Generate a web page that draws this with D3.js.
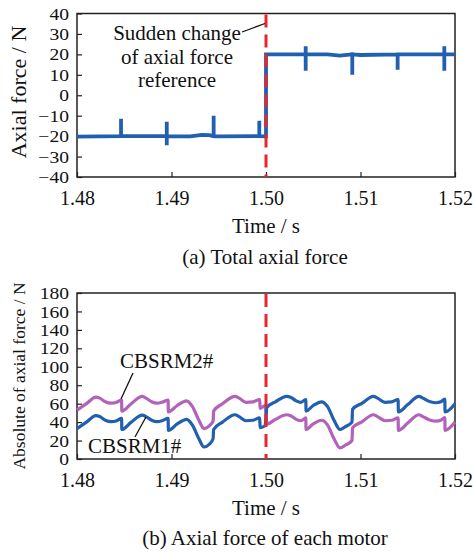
<!DOCTYPE html>
<html>
<head>
<meta charset="utf-8">
<script src="https://cdn.jsdelivr.net/npm/d3@7"></script>
<style>
  html, body { margin: 0; padding: 0; background: #fff; }
  svg { display: block; }
</style>
</head>
<body>
<svg id="chart" width="473" height="554"></svg>
<script>
// ---------------- data ----------------
const xTicks = [1.48, 1.49, 1.50, 1.51, 1.52];
const yTicksTop = [-40, -30, -20, -10, 0, 10, 20, 30, 40];
const yTicksBottom = [0, 20, 40, 60, 80, 100, 120, 140, 160, 180];
const stepTime = 1.50;

// (a) total axial force: base trace
const totalTime  = [1.4800, 1.4920, 1.4932, 1.4940, 1.4950, 1.5000, 1.5000, 1.5065, 1.5078, 1.5100, 1.5200];
const totalForce = [-20.2, -20.1, -19.4, -19.5, -20.1, -20.1, 20.0, 20.0, 19.4, 19.7, 20.0];
// spikes on the total force
const spikeTime = [1.48466, 1.48950, 1.49446, 1.49929, 1.50420, 1.50913, 1.51393, 1.51887];
const spikeMax  = [-11.5, -13.0, -10.0, -12.5, 24.0, 20.0, 20.0, 24.0];
const spikeMin  = [-20.0, -24.5, -20.0, -20.0, 12.0, 10.0, 12.5, 12.0];

// (b) axial force of each motor
const motorTime = [
  1.48000, 1.48100, 1.48200, 1.48240, 1.48300, 1.48360, 1.48420, 1.48472,
  1.48474, 1.48574, 1.48690, 1.48730, 1.48790, 1.48845, 1.48900, 1.48964,
  1.48967, 1.49060, 1.49160, 1.49220, 1.49290, 1.49344, 1.49400, 1.49440,
  1.49446, 1.49540, 1.49672, 1.49715, 1.49790, 1.49860, 1.49934,
  1.49937, 1.49990, 1.50010, 1.50100, 1.50218, 1.50260, 1.50320, 1.50370, 1.50421,
  1.50424, 1.50500, 1.50589, 1.50650, 1.50720, 1.50783, 1.50840, 1.50910,
  1.50916, 1.51010, 1.51136, 1.51180, 1.51260, 1.51330, 1.51398,
  1.51401, 1.51500, 1.51618, 1.51660, 1.51740, 1.51800, 1.51850, 1.51892,
  1.51895, 1.52000
];
const motor1Force = [
  33, 40, 47, 46, 42, 40.5, 41.5, 44,
  32, 40, 47.5, 46, 42, 40.5, 41.5, 44,
  31, 38, 43, 37, 22, 13, 16, 22,
  32, 40, 48, 46, 41.5, 42, 44.5,
  34, 36, 56, 62, 68, 67, 63, 61.5, 64.5,
  52, 58, 62, 57, 42, 32, 35, 40,
  54, 60, 68, 66, 61.5, 62, 64.5,
  51, 59, 68, 66, 62, 61, 62, 65,
  51, 60
];
const motor2Force = [
  53, 60, 67, 66, 62, 60.5, 61.5, 64,
  52, 60, 68, 66, 62, 60.5, 61.5, 64,
  51, 58, 63, 57, 42, 33, 36, 41,
  52, 60, 68, 66, 61.5, 62, 64.5,
  55, 58, 38, 43, 48, 47, 43, 41.5, 44.5,
  32, 38, 42, 37, 22, 12, 15, 20,
  34, 40, 48, 46, 41.5, 42, 44.5,
  31, 39, 48, 46, 42, 41, 42, 45,
  31, 40
];

// ---------------- font pick ----------------
function pickFont(list) {
  const c = document.createElement("canvas").getContext("2d");
  const s = "Sudden change 0123456789 axial";
  for (const f of list) {
    let ok = false;
    for (const fb of ["monospace", "sans-serif"]) {
      c.font = `40px ${fb}`; const w0 = c.measureText(s).width;
      c.font = `40px "${f}", ${fb}`; const w1 = c.measureText(s).width;
      if (Math.abs(w0 - w1) > 0.5) ok = true;
    }
    if (ok) return `"${f}", serif`;
  }
  return "serif";
}
const FAMILY = pickFont(["Liberation Serif", "Times New Roman", "Tinos", "Nimbus Roman", "Times", "DejaVu Serif"]);

// ---------------- drawing ----------------
const svg = d3.select("#chart").style("font-family", FAMILY);
const BLUE = "#2160b0", PURPLE = "#b262b8", RED = "#e8262b";
const FONT = 20;

const x = d3.scaleLinear().domain([1.48, 1.52]).range([77, 455]);
const yTop = d3.scaleLinear().domain([-40, 40]).range([177, 13.5]);
const yBot = d3.scaleLinear().domain([0, 180]).range([459, 293]);

function drawAxes(y, yTicks, yFmt) {
  const gx = svg.append("g")
    .attr("transform", `translate(0,${y.range()[0]})`)
    .call(d3.axisBottom(x).tickValues(xTicks).tickFormat(d3.format(".2f"))
      .tickSizeInner(-5).tickSizeOuter(0).tickPadding(14));
  const gy = svg.append("g")
    .attr("transform", `translate(${x.range()[0]},0)`)
    .call(d3.axisLeft(y).tickValues(yTicks).tickFormat(yFmt)
      .tickSizeInner(-5).tickSizeOuter(0).tickPadding(0));
  [gx, gy].forEach(g => {
    g.attr("font-family", null).style("font-family", FAMILY).attr("font-size", FONT);
    g.select(".domain").remove();
    g.selectAll(".tick line").attr("stroke", "#222").attr("stroke-width", 1.2);
    g.selectAll(".tick text").attr("fill", "#111");
  });
  // y labels are slightly squat in the reference
  gy.selectAll(".tick text").attr("x", null).attr("font-size", 17.5)
    .attr("transform", "translate(-8,0) scale(1.12,1)");
  // frame
  svg.append("rect")
    .attr("x", x.range()[0]).attr("y", y.range()[1])
    .attr("width", x.range()[1] - x.range()[0])
    .attr("height", y.range()[0] - y.range()[1])
    .attr("fill", "none").attr("stroke", "#222").attr("stroke-width", 1.5);
}

function redLine(y) {
  svg.append("line")
    .attr("x1", x(stepTime)).attr("x2", x(stepTime))
    .attr("y1", y.range()[1] + 1).attr("y2", y.range()[0])
    .attr("stroke", RED).attr("stroke-width", 3)
    .attr("stroke-dasharray", "13,7");
}

function label(xp, yp, txt, size, anchor) {
  return svg.append("text").attr("x", xp).attr("y", yp)
    .attr("text-anchor", anchor || "start").attr("font-size", size)
    .attr("fill", "#111").text(txt);
}

// ----- (a) -----
const basePts = totalTime.map((t, i) => ({ t, v: totalForce[i], o: i * 10 }));
const spikePts = [];
spikeTime.forEach((t, i) => {
  const base = t < stepTime ? -20 : 20;
  spikePts.push({ t, v: base, o: 1 }, { t, v: spikeMax[i], o: 2 },
                { t, v: spikeMin[i], o: 3 }, { t, v: base, o: 4 });
});
const allPts = basePts.concat(spikePts).sort((a, b) => a.t - b.t || a.o - b.o);

drawAxes(yTop, yTicksTop, d3.format("d"));

svg.append("path")
  .datum(allPts)
  .attr("fill", "none").attr("stroke", BLUE).attr("stroke-width", 3.8)
  .attr("d", d3.line().x(d => x(d.t)).y(d => yTop(d.v)));

redLine(yTop);

const ann = ["Sudden change", "of axial force", "reference"];
ann.forEach((d, i) => label(177, 40 + i * 23.5, d, 21, "middle"));
svg.append("line")
  .attr("x1", 242).attr("y1", 32).attr("x2", 265).attr("y2", 23.5)
  .attr("stroke", "#111").attr("stroke-width", 1.3);

label(x(1.50), 233, "Time / s", 21, "middle");
label(265, 264, "(a) Total axial force", 21, "middle");
svg.append("text").attr("transform", "translate(26,92) rotate(-90)")
  .attr("text-anchor", "middle").attr("font-size", 22).attr("fill", "#111")
  .text("Axial force / N");

// ----- (b) -----
drawAxes(yBot, yTicksBottom, d3.format("d"));

const motorLine = arr => d3.line()
  .x((d, i) => x(motorTime[i]))
  .y(d => yBot(d))
  .curve(d3.curveMonotoneX)(arr);

svg.append("path").attr("d", motorLine(motor2Force))
  .attr("fill", "none").attr("stroke", PURPLE).attr("stroke-width", 3.2);
svg.append("path").attr("d", motorLine(motor1Force))
  .attr("fill", "none").attr("stroke", BLUE).attr("stroke-width", 3.2);

redLine(yBot);

label(120, 368, "CBSRM2#", 21);
svg.append("line").attr("x1", 133).attr("y1", 373).attr("x2", 121).attr("y2", 399)
  .attr("stroke", "#111").attr("stroke-width", 1.3);
label(88, 453, "CBSRM1#", 21);
svg.append("line").attr("x1", 135).attr("y1", 437).attr("x2", 146).attr("y2", 417)
  .attr("stroke", "#111").attr("stroke-width", 1.3);

label(x(1.50), 515, "Time / s", 21, "middle");
label(265, 545, "(b) Axial force of each motor", 21, "middle");
svg.append("text").attr("transform", "translate(25,376) rotate(-90)")
  .attr("text-anchor", "middle").attr("font-size", 17.5).attr("fill", "#111")
  .text("Absolute of axial force / N");
</script>
</body>
</html>
